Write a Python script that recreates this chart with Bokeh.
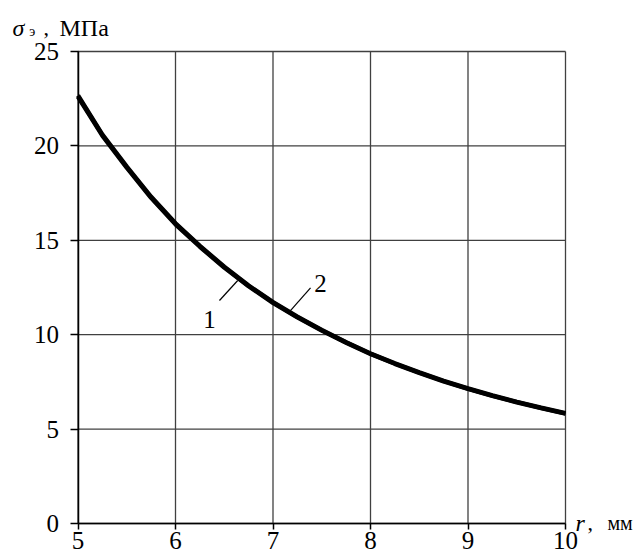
from bokeh.plotting import figure
from bokeh.models import Range1d, FixedTicker, Label, ColumnDataSource
from bokeh.embed import file_html
from bokeh.resources import INLINE

# data
r = [5.0, 5.25, 5.5, 5.75, 6.0, 6.25, 6.5, 6.75, 7.0, 7.25, 7.5, 7.75,
     8.0, 8.25, 8.5, 8.75, 9.0, 9.25, 9.5, 9.75, 10.0]
sigma1 = [22.67, 20.6, 18.9, 17.3, 15.9, 14.7, 13.6, 12.6, 11.72, 10.95, 10.25, 9.6,
          9.0, 8.48, 8.0, 7.55, 7.15, 6.78, 6.44, 6.13, 5.84]
sigma2 = [22.6, 20.55, 18.85, 17.25, 15.85, 14.66, 13.56, 12.57, 11.69, 10.92, 10.22, 9.58,
          8.98, 8.46, 7.98, 7.53, 7.13, 6.76, 6.42, 6.11, 5.82]
x_ticks = [5, 6, 7, 8, 9, 10]
y_ticks = [0, 5, 10, 15, 20, 25]

FONT = "'Liberation Serif', 'Times New Roman', serif"

# page layout: the frame covers the whole window, the axes sit at fixed locations
W, H = 640, 557
X0_PX, X1_PX = 77.5, 565.0      # pixel columns of x = 5 and x = 10
Y0_PX, Y1_PX = 523.0, 51.0      # pixel rows of y = 0 and y = 25
kx = (X1_PX - X0_PX) / (x_ticks[-1] - x_ticks[0])
ky = (Y0_PX - Y1_PX) / (y_ticks[-1] - y_ticks[0])
xr = Range1d(x_ticks[0] - X0_PX / kx, x_ticks[0] + (W - X0_PX) / kx)
yr = Range1d(y_ticks[0] - (H - Y0_PX) / ky, y_ticks[0] + Y0_PX / ky)

p = figure(frame_width=W, frame_height=H, output_backend="svg",
           toolbar_location=None, min_border=0, x_range=xr, y_range=yr)
p.outline_line_color = None
p.background_fill_color = "white"
p.border_fill_color = "white"
p.xgrid.visible = False
p.ygrid.visible = False

for ax in (p.xaxis[0], p.yaxis[0]):
    ax.major_label_text_font = FONT
    ax.major_label_text_font_size = "25px"
    ax.major_label_text_color = "black"
    ax.axis_line_color = "black"
    ax.axis_line_width = 1.5
    ax.major_tick_line_color = "black"
    ax.major_tick_line_width = 1.5
    ax.major_tick_in = 0
    ax.minor_tick_line_color = None
p.xaxis[0].ticker = FixedTicker(ticks=x_ticks)
p.yaxis[0].ticker = FixedTicker(ticks=y_ticks)
p.xaxis[0].fixed_location = y_ticks[0]
p.yaxis[0].fixed_location = x_ticks[0]
p.xaxis[0].bounds = (x_ticks[0], x_ticks[-1])
p.yaxis[0].bounds = (y_ticks[0], y_ticks[-1])
p.xaxis[0].major_tick_out = 6
p.yaxis[0].major_tick_out = 8
p.xaxis[0].major_label_standoff = 2
p.yaxis[0].major_label_standoff = 11

# grid lines, bounded to the data box
n = len(x_ticks)
m = len(y_ticks)
p.segment(x0=x_ticks, y0=[y_ticks[0]] * n, x1=x_ticks, y1=[y_ticks[-1]] * n,
          line_color="#404040", line_width=1.3)
p.segment(x0=[x_ticks[0]] * m, y0=y_ticks, x1=[x_ticks[-1]] * m, y1=y_ticks,
          line_color="#404040", line_width=1.3)

src = ColumnDataSource(dict(r=r, s1=sigma1, s2=sigma2))
p.line("r", "s2", source=src, line_color="black", line_width=4.5)
p.line("r", "s1", source=src, line_color="black", line_width=4.5)

# curve numbers with leader lines
p.segment(x0=[6.451, 7.179], y0=[11.81, 11.28], x1=[6.638, 7.385], y1=[12.87, 12.48],
          line_color="black", line_width=1.2)

def lab(text, x, y, size, style="normal", align="left"):
    return Label(x=x, y=y, text=text, text_font=FONT, text_font_size=size,
                 text_font_style=style, text_align=align,
                 text_baseline="alphabetic", text_color="black")

p.add_layout(lab("1", 6.349, 10.80, "25px", align="center"))
p.add_layout(lab("2", 7.487, 12.71, "25px", align="center"))

# axis titles
p.add_layout(lab("σ", 4.328, 26.27, "24px", "italic"))
p.add_layout(lab("э", 4.50, 26.04, "14px"))
p.add_layout(lab(",", 4.646, 26.27, "22px"))
p.add_layout(lab("МПа", 4.81, 26.27, "24px"))
p.add_layout(lab("r", 10.103, 0.05, "24px", "italic"))
p.add_layout(lab(",", 10.226, 0.05, "22px"))
p.add_layout(lab("мм", 10.43, 0.05, "20px"))

open("out.html", "w").write(file_html(p, INLINE))
